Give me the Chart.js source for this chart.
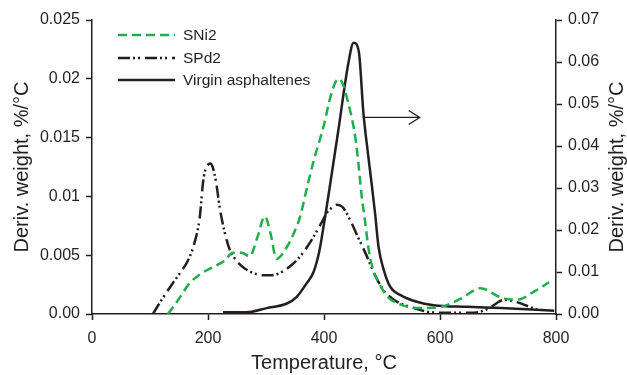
<!DOCTYPE html>
<html>
<head>
<meta charset="utf-8">
<script src="https://cdn.jsdelivr.net/npm/chart.js@4.4.1/dist/chart.umd.min.js"></script>
<style>
  html, body { margin: 0; padding: 0; background: #fff; }
  #wrap { width: 627px; height: 375px; position: relative; }
</style>
</head>
<body>
<div id="wrap"><canvas id="dtgChart"></canvas></div>
<script>
// series names (legend order)
const seriesNames = ['SNi2', 'SPd2', 'Virgin asphaltenes'];

// SNi2 – left axis, [temperature °C, deriv. weight %/°C]
const sni2Temp = [131, 150, 168, 190, 209, 228, 243, 258, 272, 285, 298, 308, 318, 336, 350, 359, 370, 382, 399, 413, 425, 433, 442, 451, 457, 465, 470, 477, 485, 495, 509, 532, 566, 601, 636, 670, 705, 733, 762, 788];
const sni2Vals = [0, 0.0013, 0.0026, 0.0035, 0.0040, 0.0045, 0.0052, 0.0052, 0.0049, 0.0065, 0.0083, 0.0068, 0.0047, 0.0057, 0.0071, 0.0083, 0.0106, 0.0130, 0.0159, 0.0188, 0.0200, 0.0195, 0.0179, 0.0159, 0.0139, 0.0100, 0.0082, 0.0055, 0.0037, 0.0026, 0.0015, 0.0008, 0.0005, 0.0006, 0.0013, 0.0022, 0.0014, 0.0012, 0.0019, 0.0027];

// SPd2 – left axis
const spd2Temp = [105, 120, 139, 152, 165, 177, 186, 191, 195, 200, 204, 208, 214, 220, 229, 238, 248, 260, 277, 295, 310, 324, 340, 359, 380, 395, 405, 415, 422, 432, 445, 458, 474, 488, 503, 518, 532, 555, 578, 618, 650, 670, 688, 700, 710, 725, 739, 755, 771];
const spd2Vals = [0, 0.0012, 0.0026, 0.0035, 0.0045, 0.0061, 0.0083, 0.0110, 0.0122, 0.0127, 0.0128, 0.0125, 0.0112, 0.0091, 0.0069, 0.0054, 0.0046, 0.0040, 0.0035, 0.0033, 0.0033, 0.0035, 0.0040, 0.0049, 0.0064, 0.0077, 0.0086, 0.0091, 0.0093, 0.0091, 0.0080, 0.0066, 0.0049, 0.0033, 0.0020, 0.0013, 0.0009, 0.0005, 0.0002, 0.0001, 0.0001, 0.0002, 0.0006, 0.0010, 0.0012, 0.0011, 0.0009, 0.0006, 0.0003];

// Virgin asphaltenes – right axis
const virginTemp = [226, 266, 301, 336, 353, 370, 382, 392, 400, 408, 425, 442, 451, 460, 468, 476, 483, 488, 494, 503, 514, 532, 560, 589, 647, 705, 797];
const virginVals = [0.0004, 0.0004, 0.0014, 0.0025, 0.0041, 0.0073, 0.0100, 0.0150, 0.0215, 0.0285, 0.0440, 0.0597, 0.0646, 0.0625, 0.0478, 0.0380, 0.0300, 0.0240, 0.0160, 0.0105, 0.0065, 0.0045, 0.0029, 0.0021, 0.0017, 0.0014, 0.0008];

// tick labels
const xTickLabels = ['0', '200', '400', '600', '800'];
const yLeftTickLabels = ['0.00', '0.005', '0.01', '0.015', '0.02', '0.025'];
const yRightTickLabels = ['0.00', '0.01', '0.02', '0.03', '0.04', '0.05', '0.06', '0.07'];

// arrow pointing from the virgin curve to the right axis (temperature, right-axis value)
const arrowFrom = [467, 0.0468];
const arrowTo = [565, 0.0468];

const INK = '#231f20';
const GREEN = '#1fae4b';
const FONT = '"Liberation Sans", Arial, sans-serif';

Chart.defaults.font.family = FONT;
Chart.defaults.color = INK;

function toPoints(xs, ys) {
    return xs.map((x, i) => ({ x: x, y: ys[i] }));
}

const lineStyles = [
    { color: GREEN, width: 2.5, dash: [9, 5] },
    { color: INK, width: 2.5, dash: [12, 3, 2, 3, 2, 5] },
    { color: INK, width: 2.5, dash: [] }
];

// legend, arrow and right axis title are drawn by hand
const extrasPlugin = {
    id: 'extras',
    afterDraw(chart) {
        const ctx = chart.ctx;
        ctx.save();

        // legend
        const ly = [35, 58, 80];
        seriesNames.forEach((name, i) => {
            const s = lineStyles[i];
            ctx.beginPath();
            ctx.setLineDash(s.dash);
            ctx.strokeStyle = s.color;
            ctx.lineWidth = s.width;
            ctx.moveTo(118, ly[i]);
            ctx.lineTo(175, ly[i]);
            ctx.stroke();
            ctx.setLineDash([]);
            ctx.fillStyle = INK;
            ctx.font = '15.5px ' + FONT;
            ctx.textAlign = 'left';
            ctx.textBaseline = 'middle';
            ctx.fillText(name, 183, ly[i] + 1);
        });

        // arrow
        const xs = chart.scales.x, yr = chart.scales.yR;
        const x1 = xs.getPixelForValue(arrowFrom[0]);
        const y1 = yr.getPixelForValue(arrowFrom[1]);
        const x2 = xs.getPixelForValue(arrowTo[0]);
        const y2 = yr.getPixelForValue(arrowTo[1]);
        ctx.beginPath();
        ctx.strokeStyle = INK;
        ctx.lineWidth = 1.3;
        ctx.moveTo(x1, y1);
        ctx.lineTo(x2, y2);
        ctx.moveTo(x2 - 11, y2 - 7);
        ctx.lineTo(x2, y2);
        ctx.lineTo(x2 - 11, y2 + 7);
        ctx.stroke();

        // right axis title, reading bottom to top like the left one
        const area = chart.chartArea;
        ctx.translate(617, (area.top + area.bottom) / 2);
        ctx.rotate(-Math.PI / 2);
        ctx.font = '20px ' + FONT;
        ctx.textAlign = 'center';
        ctx.textBaseline = 'middle';
        ctx.fillText('Deriv. weight, %/°C', 0, 0);
        ctx.restore();
    }
};

const axisGrid = {
    display: true,
    drawOnChartArea: false,
    drawTicks: true,
    tickLength: 6,
    tickWidth: 1.5,
    tickColor: INK
};

new Chart(document.getElementById('dtgChart'), {
    type: 'line',
    data: {
        datasets: [
            {
                label: seriesNames[0],
                data: toPoints(sni2Temp, sni2Vals),
                yAxisID: 'yL',
                borderColor: lineStyles[0].color,
                borderWidth: lineStyles[0].width,
                borderDash: lineStyles[0].dash,
                cubicInterpolationMode: 'monotone',
                pointRadius: 0,
                fill: false
            },
            {
                label: seriesNames[1],
                data: toPoints(spd2Temp, spd2Vals),
                yAxisID: 'yL',
                borderColor: lineStyles[1].color,
                borderWidth: lineStyles[1].width,
                borderDash: lineStyles[1].dash,
                cubicInterpolationMode: 'monotone',
                pointRadius: 0,
                fill: false
            },
            {
                label: seriesNames[2],
                data: toPoints(virginTemp, virginVals),
                yAxisID: 'yR',
                borderColor: lineStyles[2].color,
                borderWidth: lineStyles[2].width,
                cubicInterpolationMode: 'monotone',
                pointRadius: 0,
                fill: false
            }
        ]
    },
    options: {
        responsive: true,
        maintainAspectRatio: false,
        animation: false,
        layout: { padding: { top: 20, left: 0, right: 0, bottom: 0 } },
        plugins: {
            legend: { display: false },
            tooltip: { enabled: false }
        },
        scales: {
            x: {
                type: 'linear',
                position: 'bottom',
                min: 0,
                max: 800,
                grid: axisGrid,
                border: { display: true, color: INK, width: 1.5 },
                ticks: {
                    stepSize: 200,
                    padding: 9,
                    font: { size: 16 },
                    color: INK,
                    callback: (v, i) => xTickLabels[i]
                },
                title: {
                    display: true,
                    text: 'Temperature, °C',
                    font: { size: 20 },
                    color: INK,
                    padding: { top: 0, bottom: 0 }
                },
                afterFit: (s) => { s.height = 61; }
            },
            yL: {
                type: 'linear',
                position: 'left',
                min: 0,
                max: 0.025,
                grid: axisGrid,
                border: { display: true, color: INK, width: 1.5 },
                ticks: {
                    stepSize: 0.005,
                    padding: 6,
                    font: { size: 16 },
                    color: INK,
                    callback: (v, i) => yLeftTickLabels[i]
                },
                title: {
                    display: true,
                    text: 'Deriv. weight, %/°C',
                    font: { size: 20 },
                    color: INK,
                    padding: { top: 10, bottom: 0 }
                },
                afterFit: (s) => { s.width = 92; }
            },
            yR: {
                type: 'linear',
                position: 'right',
                min: 0,
                max: 0.07,
                grid: axisGrid,
                border: { display: true, color: INK, width: 1.5 },
                ticks: {
                    stepSize: 0.01,
                    padding: 6,
                    font: { size: 16 },
                    color: INK,
                    callback: (v, i) => yRightTickLabels[i]
                },
                afterFit: (s) => { s.width = 71; }
            }
        }
    },
    plugins: [extrasPlugin]
});
</script>
</body>
</html>
